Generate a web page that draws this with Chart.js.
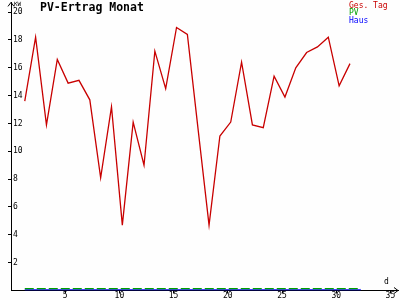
<!DOCTYPE html>
<html>
<head>
<meta charset="utf-8">
<script src="https://cdn.jsdelivr.net/npm/chart.js@4"></script>
<style>
  html, body { margin: 0; padding: 0; background: #fefefe; }
  canvas { display: block; }
</style>
</head>
<body>
<canvas id="pvChart" width="400" height="300"></canvas>
<script>
// days of the month (values are plotted a little after midnight of each day)
const days = [1, 2, 3, 4, 5, 6, 7, 8, 9, 10, 11, 12, 13, 14, 15, 16,
  17, 18, 19, 20, 21, 22, 23, 24, 25, 26, 27, 28, 29, 30, 31];
const pvDays = [1, 2, 3, 4, 5, 6, 7, 8, 9, 10, 11, 12, 13, 14, 15, 16,
  17, 18, 19, 20, 21, 22, 23, 24, 25, 26, 27, 28, 29, 30, 31, 32];
const dayOffset = 0.27;

// kWh per day
const gesTag = [13.6, 18.2, 11.9, 16.6, 14.9, 15.1, 13.7, 8.1, 13.2, 4.7, 12.1,
  9.0, 17.2, 14.5, 18.9, 18.4, 11.5, 4.7, 11.1, 12.1, 16.4, 11.9, 11.7, 15.4,
  13.9, 16.0, 17.1, 17.5, 18.2, 14.7, 16.3];
const pv = [0.13, 0.13, 0.13, 0.13, 0.13, 0.13, 0.13, 0.13, 0.13, 0.13, 0.13,
  0.13, 0.13, 0.13, 0.13, 0.13, 0.13, 0.13, 0.13, 0.13, 0.13, 0.13, 0.13, 0.13,
  0.13, 0.13, 0.13, 0.13, 0.13, 0.13, 0.13, 0.13];
const haus = [0.05, 0.05, 0.05, 0.05, 0.05, 0.05, 0.05, 0.05, 0.05, 0.05, 0.05,
  0.05, 0.05, 0.05, 0.05, 0.05, 0.05, 0.05, 0.05, 0.05, 0.05, 0.05, 0.05, 0.05,
  0.05, 0.05, 0.05, 0.05, 0.05, 0.05, 0.05, 0.05];

const xTicks = [5, 10, 15, 20, 25, 30, 35];
const yTicks = [2, 4, 6, 8, 10, 12, 14, 16, 18, 20];

const tickFont = { family: "DejaVu Sans Mono", size: 8, lineHeight: 1 };
const yTickFont = { family: "DejaVu Sans Mono", size: 8, lineHeight: 0.1 };

function toPoints(xs, vals) {
  return vals.map((v, i) => ({ x: xs[i] + dayOffset, y: v }));
}

// title, legend texts, axis units and arrow heads
const overlay = {
  id: "overlay",
  afterDraw(chart) {
    const ctx = chart.ctx;
    const area = chart.chartArea;
    ctx.save();
    ctx.strokeStyle = "#000";
    ctx.lineWidth = 1;
    // arrow heads
    ctx.beginPath();
    ctx.moveTo(area.left - 3, area.top + 4);
    ctx.lineTo(area.left, area.top);
    ctx.lineTo(area.left + 3, area.top + 4);
    ctx.moveTo(area.right - 4, area.bottom - 3);
    ctx.lineTo(area.right, area.bottom);
    ctx.lineTo(area.right - 4, area.bottom + 3);
    ctx.stroke();

    ctx.fillStyle = "#000";
    ctx.font = "bold 11.5px 'DejaVu Sans Mono'";
    ctx.textBaseline = "alphabetic";
    ctx.fillText("PV-Ertrag Monat", 40, 11);

    ctx.font = "6px 'DejaVu Sans Mono'";
    ctx.fillText("KW", 14, 6);
    ctx.font = "8px 'DejaVu Sans Mono'";
    ctx.fillText("d", 384, 284);

    ctx.fillStyle = "#c80000";
    ctx.fillText("Ges. Tag", 349, 7.5);
    ctx.fillStyle = "#00a000";
    ctx.fillText("PV", 349, 15);
    ctx.fillStyle = "#0000ff";
    ctx.fillText("Haus", 349, 22.5);
    ctx.restore();
  }
};

new Chart(document.getElementById("pvChart"), {
  type: "line",
  data: {
    datasets: [
      {
        label: "Ges. Tag",
        data: toPoints(days, gesTag),
        borderColor: "#c80000",
        borderWidth: 1.3,
        pointRadius: 0,
        tension: 0
      },
      {
        label: "PV",
        data: toPoints(pvDays, pv),
        borderColor: "#00a000",
        borderWidth: 1.2,
        borderDash: [9, 3],
        pointRadius: 0
      },
      {
        label: "Haus",
        data: toPoints(pvDays, haus),
        borderColor: "#0000ff",
        borderWidth: 1.2,
        pointRadius: 0
      }
    ]
  },
  options: {
    responsive: false,
    animation: false,
    events: [],
    plugins: {
      legend: { display: false },
      tooltip: { enabled: false }
    },
    layout: { padding: { left: 4, right: 2, top: 0.5, bottom: 1.5 } },
    scales: {
      x: {
        type: "linear",
        min: 0,
        max: 35.7,
        border: { color: "#000", width: 1 },
        grid: { drawOnChartArea: false, color: "#000", tickLength: 3 },
        ticks: { font: tickFont, color: "#000", padding: -1.5, maxRotation: 0 },
        afterBuildTicks: s => { s.ticks = xTicks.map(v => ({ value: v })); }
      },
      y: {
        min: 0,
        max: 20.7,
        border: { color: "#000", width: 1 },
        grid: { drawOnChartArea: false, color: "#000", tickLength: 3 },
        ticks: { font: yTickFont, color: "#000", mirror: true, padding: 2 },
        afterBuildTicks: s => { s.ticks = yTicks.map(v => ({ value: v })); }
      }
    }
  },
  plugins: [overlay]
});
</script>
</body>
</html>
